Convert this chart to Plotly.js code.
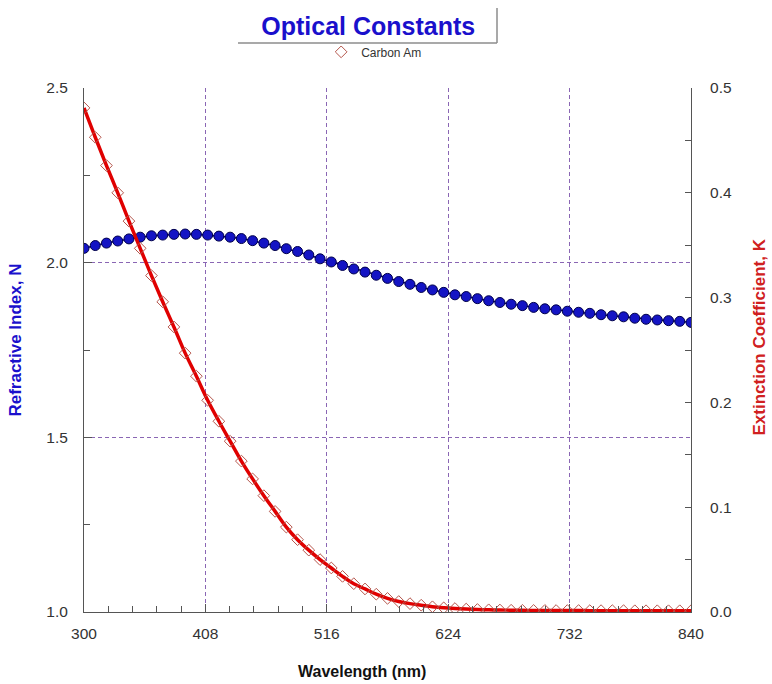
<!DOCTYPE html>
<html>
<head>
<meta charset="utf-8">
<script src="https://cdn.plot.ly/plotly-3.0.1.min.js"></script>
<style>
  html, body { margin: 0; padding: 0; background: #ffffff; }
  #chart { width: 772px; height: 684px; }
</style>
</head>
<body>
<div id="chart"></div>
<script>
// Wavelength grid (nm), one sample every 10 nm
const wavelength = [
  300, 310, 320, 330, 340, 350, 360, 370, 380, 390,
  400, 410, 420, 430, 440, 450, 460, 470, 480, 490,
  500, 510, 520, 530, 540, 550, 560, 570, 580, 590,
  600, 610, 620, 630, 640, 650, 660, 670, 680, 690,
  700, 710, 720, 730, 740, 750, 760, 770, 780, 790,
  800, 810, 820, 830, 840
];

// Refractive index N (left axis)
const refractiveN = [
  2.041, 2.049, 2.056, 2.062, 2.068, 2.073, 2.077, 2.079, 2.081, 2.082,
  2.081, 2.079, 2.076, 2.073, 2.069, 2.063, 2.056, 2.049, 2.040, 2.032,
  2.022, 2.011, 2.002, 1.992, 1.982, 1.973, 1.964, 1.955, 1.946, 1.938,
  1.929, 1.922, 1.915, 1.908, 1.903, 1.897, 1.891, 1.886, 1.881, 1.877,
  1.872, 1.868, 1.865, 1.861, 1.858, 1.855, 1.851, 1.848, 1.845, 1.841,
  1.838, 1.836, 1.834, 1.832, 1.829
];

// Extinction coefficient K (right axis)
const extinctionK = [
  0.481, 0.453, 0.426, 0.400, 0.373, 0.347, 0.321, 0.296, 0.272, 0.247,
  0.225, 0.202, 0.182, 0.163, 0.144, 0.127, 0.111, 0.096, 0.081, 0.069,
  0.059, 0.050, 0.042, 0.034, 0.027, 0.022, 0.017, 0.013, 0.010, 0.008,
  0.0065, 0.0050, 0.0040, 0.0033, 0.0028, 0.0024, 0.0021, 0.0019, 0.0017, 0.0016,
  0.0015, 0.0015, 0.0014, 0.0014, 0.0014, 0.0013, 0.0013, 0.0013, 0.0013, 0.0012,
  0.0012, 0.0012, 0.0012, 0.0012, 0.0012
];

const materialName = 'Carbon Am';
const xTicks = [300, 408, 516, 624, 732, 840];

const FONT = 'Arial, "Liberation Sans", sans-serif';
const GRID = '#8a66b4';
const AXIS = '#555555';
const TICKFONT = { family: FONT, size: 15.5, color: '#333333' };

const traces = [
  {
    x: wavelength, y: refractiveN, type: 'scatter', mode: 'lines+markers',
    xaxis: 'x', yaxis: 'y', showlegend: false, hoverinfo: 'x+y',
    line: { color: '#00006a', width: 1.5 },
    marker: { symbol: 'circle', size: 10, color: '#1414c4',
              line: { color: '#00004a', width: 1 } }
  },
  {
    x: wavelength, y: extinctionK, type: 'scatter', mode: 'lines',
    xaxis: 'x', yaxis: 'y2', showlegend: false, hoverinfo: 'skip',
    line: { color: '#e00000', width: 3.5, shape: 'spline', smoothing: 1 }
  },
  {
    x: wavelength, y: extinctionK, type: 'scatter', mode: 'markers',
    xaxis: 'x', yaxis: 'y2', name: materialName,
    marker: { symbol: 'diamond-open', size: 9, color: '#b5564c',
              line: { color: '#b5564c', width: 1 } }
  }
];

const layout = {
  width: 772, height: 684,
  paper_bgcolor: '#ffffff', plot_bgcolor: '#ffffff',
  margin: { l: 84, r: 81, t: 88, b: 72 },
  font: { family: FONT, color: '#333333', size: 14 },
  title: {
    text: '<b>Optical Constants</b>',
    font: { family: FONT, size: 25, color: '#1a10cc' },
    xref: 'container', yref: 'container',
    x: 0.477, xanchor: 'center', y: 0.961, yanchor: 'middle'
  },
  showlegend: true,
  legend: {
    orientation: 'h', x: 0.478, xanchor: 'center', y: 1.069, yanchor: 'middle',
    font: { family: FONT, size: 12, color: '#333333' },
    bgcolor: 'rgba(0,0,0,0)', itemwidth: 30
  },
  xaxis: {
    range: [300, 840], tickmode: 'array', tickvals: xTicks,
    ticktext: xTicks.map(String),
    ticks: 'inside', ticklen: 8, tickcolor: AXIS, tickwidth: 1,
    minor: { dtick: 21.6, tick0: 300, ticks: 'inside', ticklen: 6, tickcolor: AXIS, showgrid: false },
    showline: true, linecolor: AXIS, linewidth: 1, mirror: false,
    showgrid: true, gridcolor: GRID, gridwidth: 1, griddash: '4px,3px',
    zeroline: false, ticklabelstandoff: 7,
    tickfont: TICKFONT
  },
  yaxis: {
    range: [1.0, 2.5], dtick: 0.5, tick0: 1.0, tickformat: '.1f',
    ticks: 'inside', ticklen: 8, tickcolor: AXIS,
    minor: { dtick: 0.25, ticks: 'inside', ticklen: 6, tickcolor: AXIS, showgrid: false },
    showline: true, linecolor: AXIS, linewidth: 1,
    showgrid: true, gridcolor: GRID, gridwidth: 1, griddash: '4px,3px',
    zeroline: false, ticklabelstandoff: 12,
    tickfont: TICKFONT
  },
  yaxis2: {
    overlaying: 'y', side: 'right',
    range: [0, 0.5], dtick: 0.1, tick0: 0, tickformat: '.1f',
    ticks: 'inside', ticklen: 6, tickcolor: AXIS,
    minor: { dtick: 0.05, ticks: 'inside', ticklen: 6, tickcolor: AXIS, showgrid: false },
    showline: true, linecolor: AXIS, linewidth: 1,
    showgrid: false, zeroline: false, ticklabelstandoff: 15,
    tickfont: TICKFONT
  },
  shapes: [
    // shadow edges framing the title
    { type: 'line', xref: 'paper', yref: 'paper', x0: 0.2537, x1: 0.6804, y0: 1.0859, y1: 1.0859,
      line: { color: '#8c8c8c', width: 1.5 } },
    { type: 'line', xref: 'paper', yref: 'paper', x0: 0.6804, x1: 0.6804, y0: 1.0859, y1: 1.1527,
      line: { color: '#8c8c8c', width: 1.5 } }
  ],
  annotations: [
    { text: '<b>Refractive Index, N</b>', xref: 'paper', yref: 'paper',
      x: -0.112, y: 0.518, textangle: -90, showarrow: false,
      xanchor: 'center', yanchor: 'middle',
      font: { family: FONT, size: 17, color: '#1a10cc' } },
    { text: '<b>Extinction Coefficient, K</b>', xref: 'paper', yref: 'paper',
      x: 1.113, y: 0.525, textangle: -90, showarrow: false,
      xanchor: 'center', yanchor: 'middle',
      font: { family: FONT, size: 17, color: '#d02020' } },
    { text: '<b>Wavelength (nm)</b>', xref: 'paper', yref: 'paper',
      x: 0.458, y: -0.1145, showarrow: false,
      xanchor: 'center', yanchor: 'middle',
      font: { family: FONT, size: 16, color: '#111111' } }
  ]
};

Plotly.newPlot('chart', traces, layout, { displayModeBar: false, staticPlot: true });
</script>
</body>
</html>
